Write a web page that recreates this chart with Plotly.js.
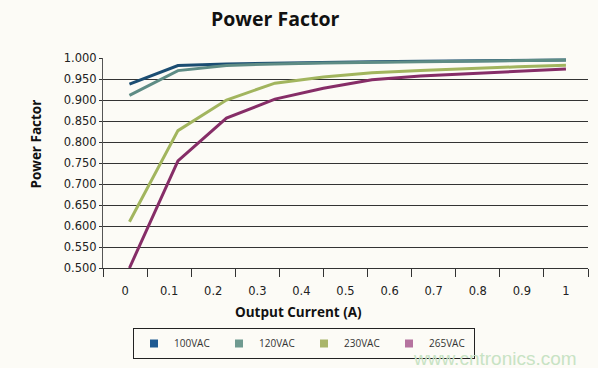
<!DOCTYPE html>
<html>
<head>
<meta charset="utf-8">
<script src="https://cdn.plot.ly/plotly-3.0.1.min.js"></script>
<style>html,body{margin:0;padding:0;background:#fcfbf6;}#chart{width:598px;height:368px;}</style>
</head>
<body>
<div id="chart"></div>
<script>
// Output current (A) at each measured point
const current = [0.01, 0.12, 0.23, 0.34, 0.45, 0.56, 0.67, 0.78, 0.89, 1.0];
// Power factor series
const pf100 = [0.938, 0.982, 0.986, 0.988, 0.990, 0.991, 0.992, 0.993, 0.994, 0.995];
const pf120 = [0.911, 0.970, 0.982, 0.986, 0.988, 0.990, 0.991, 0.992, 0.993, 0.995];
const pf230 = [0.610, 0.827, 0.900, 0.940, 0.955, 0.965, 0.970, 0.975, 0.979, 0.983];
const pf265 = [0.500, 0.755, 0.857, 0.902, 0.928, 0.948, 0.957, 0.963, 0.968, 0.974];
const seriesNames = ['100VAC', '120VAC', '230VAC', '265VAC'];
const xTickVals = [0, 0.1, 0.2, 0.3, 0.4, 0.5, 0.6, 0.7, 0.8, 0.9, 1];
const xTickText = ['0', '0.1', '0.2', '0.3', '0.4', '0.5', '0.6', '0.7', '0.8', '0.9', '1'];

const lineColors = ['#1b4d72', '#5e8c85', '#a2b55e', '#862d67'];
const swatchColors = ['#1f5a92', '#6f9a90', '#a9b56a', '#b5739f'];
const allSeries = [pf100, pf120, pf230, pf265];

const traces = [];
allSeries.forEach((ys, i) => {
  traces.push({x: current, y: ys, type: 'scatter', mode: 'lines', name: seriesNames[i],
    line: {color: lineColors[i], width: 3}, showlegend: false, hoverinfo: 'skip'});
});
allSeries.forEach((ys, i) => {
  traces.push({x: [null], y: [null], type: 'scatter', mode: 'markers', name: seriesNames[i],
    marker: {symbol: 'square', size: 8, color: swatchColors[i]}, showlegend: true});
});

const bg = '#fcfbf6';
const layout = {
  width: 598, height: 368,
  paper_bgcolor: bg, plot_bgcolor: bg,
  margin: {l: 103, r: 10, t: 58, b: 100},
  font: {family: 'DejaVu Sans', size: 11.5, color: '#222'},
  xaxis: {
    range: [-0.05, 1.05], tickvals: xTickVals, ticktext: xTickText, ticks: '',
    showgrid: false, zeroline: false, showline: true, linecolor: '#333', linewidth: 1,
    tickfont: {family: 'DejaVu Sans', size: 11.5, color: '#222'}, ticklabelstandoff: 12,
    automargin: false,
    minor: {ticks: 'outside', tick0: -0.05, dtick: 0.1, ticklen: 8, tickcolor: '#333', tickwidth: 1, showgrid: false}
  },
  yaxis: {
    range: [0.5, 1.0], dtick: 0.05, tick0: 0.5, tickformat: '.3f', automargin: false,
    showgrid: true, gridcolor: '#333', gridwidth: 1, zeroline: false,
    showline: true, linecolor: '#555', linewidth: 1,
    ticks: 'outside', ticklen: 3, tickcolor: '#333',
    tickfont: {family: 'DejaVu Sans', size: 11.5, color: '#222'}
  },
  showlegend: true,
  legend: {
    orientation: 'h', xref: 'container', yref: 'container',
    x: 133 / 598, xanchor: 'left', y: 1 - 328 / 368, yanchor: 'top',
    bordercolor: '#222', borderwidth: 1, bgcolor: 'rgba(0,0,0,0)',
    font: {family: 'Open Sans', size: 10, color: '#333'},
    entrywidth: 40, entrywidthmode: 'pixels', itemwidth: 30
  },
  annotations: [
    {text: '<b>Power Factor</b>', xref: 'paper', yref: 'paper', x: (275 - 103) / 485, y: (368 - 100 - 18) / 210,
     xanchor: 'center', yanchor: 'middle', showarrow: false, font: {family: 'Open Sans', size: 19.5, color: '#111'}},
    {text: '<b>Power Factor</b>', xref: 'paper', yref: 'paper', x: (35 - 103) / 485, y: (268 - 144.5) / 210,
     xanchor: 'center', yanchor: 'middle', textangle: -90, showarrow: false, font: {family: 'Open Sans', size: 13.5, color: '#111'}},
    {text: '<b>Output Current (A)</b>', xref: 'paper', yref: 'paper', x: (298.5 - 103) / 485, y: (268 - 312) / 210,
     xanchor: 'center', yanchor: 'middle', showarrow: false, font: {family: 'Open Sans', size: 13.5, color: '#111'}},
    {text: 'www.cntronics.com', xref: 'paper', yref: 'paper', x: (579 - 103) / 485, y: (268 - 358) / 210,
     xanchor: 'right', yanchor: 'middle', showarrow: false, font: {family: 'Liberation Sans', size: 19, color: '#c8e3c4'}}
  ]
};

Plotly.newPlot('chart', traces, layout, {displayModeBar: false, staticPlot: true});
</script>
</body>
</html>
